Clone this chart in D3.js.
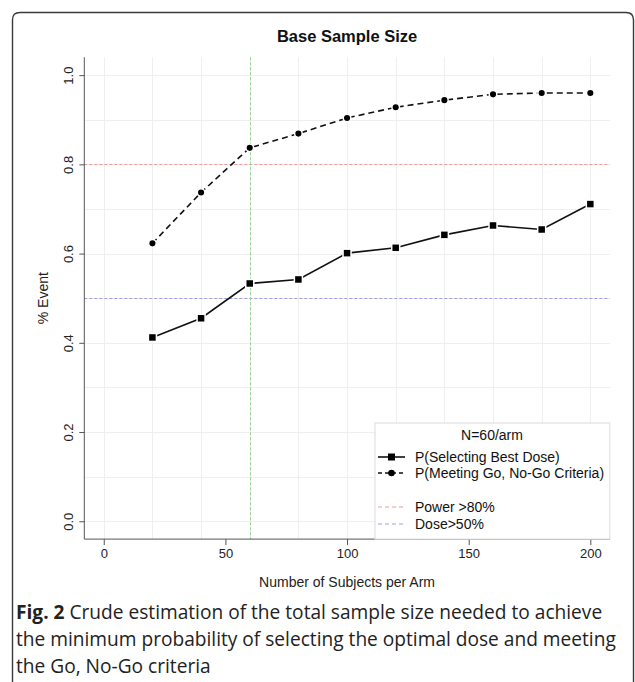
<!DOCTYPE html>
<html>
<head>
<meta charset="utf-8">
<script src="https://cdn.jsdelivr.net/npm/d3@7"></script>
<style>
  html, body { margin: 0; padding: 0; background: #fff; }
  svg { display: block; }
</style>
</head>
<body>
<svg id="chart" width="635" height="682"></svg>
<script>
// Sample sizes per arm (x) and the two estimated probabilities
const subjects = [20, 40, 60, 80, 100, 120, 140, 160, 180, 200];
const pBestDose = [0.412, 0.455, 0.533, 0.542, 0.601, 0.613, 0.642, 0.663, 0.654, 0.711];
const pGoNoGo = [0.623, 0.737, 0.837, 0.869, 0.904, 0.928, 0.944, 0.957, 0.960, 0.960];

// Reference thresholds
const powerLine = 0.8;
const doseLine = 0.5;
const chosenN = 60;

const xTicks = [0, 50, 100, 150, 200];
const yTicks = [0.0, 0.2, 0.4, 0.6, 0.8, 1.0];
const xGrid = d3.range(0, 201, 20);
const yGrid = d3.range(0, 1.0001, 0.1);

const legendTitle = "N=60/arm";
const legendLabels = ["P(Selecting Best Dose)", "P(Meeting Go, No-Go Criteria)", "Power >80%", "Dose>50%"];
const captionBold = "Fig. 2";
const captionLines = [
  " Crude estimation of the total sample size needed to achieve",
  "the minimum probability of selecting the optimal dose and meeting",
  "the Go, No-Go criteria"
];

const svg = d3.select("#chart");
const font = "'Liberation Sans', Arial, sans-serif";
const snap = v => Math.round(v) + 0.5;

// Card frame
svg.append("path")
  .attr("d", "M12.5,682 L12.5,20 Q12.5,12.5 20,12.5 L626,12.5 Q633.5,12.5 633.5,20 L633.5,682")
  .attr("fill", "none").attr("stroke", "#3a3a3a").attr("stroke-width", 1.4);

// Scales (R-style 4% padding on both axes)
const x = d3.scaleLinear().domain([-8, 208]).range([84.3, 609.8]);
const y = d3.scaleLinear().domain([-0.04, 1.04]).range([539.1, 57.3]);

// Grid
const grid = svg.append("g").attr("stroke", "#efefef").attr("stroke-width", 1);
grid.selectAll("line.v").data(xGrid).join("line").attr("class", "v")
  .attr("x1", d => snap(x(d))).attr("x2", d => snap(x(d)))
  .attr("y1", y(1.04)).attr("y2", y(-0.04));
grid.selectAll("line.h").data(yGrid).join("line").attr("class", "h")
  .attr("x1", x(-8)).attr("x2", x(208))
  .attr("y1", d => snap(y(d))).attr("y2", d => snap(y(d)));

// Reference lines
svg.append("line").attr("x1", x(-8)).attr("x2", x(208))
  .attr("y1", snap(y(powerLine))).attr("y2", snap(y(powerLine)))
  .attr("stroke", "#f09a9a").attr("stroke-width", 1).attr("stroke-dasharray", "3,2");
svg.append("line").attr("x1", x(-8)).attr("x2", x(208))
  .attr("y1", snap(y(doseLine))).attr("y2", snap(y(doseLine)))
  .attr("stroke", "#a0a0e0").attr("stroke-width", 1).attr("stroke-dasharray", "3,2");
svg.append("line").attr("x1", snap(x(chosenN))).attr("x2", snap(x(chosenN)))
  .attr("y1", y(1.04)).attr("y2", y(-0.04))
  .attr("stroke", "#98d298").attr("stroke-width", 1).attr("stroke-dasharray", "3,2");

// Axes
const xAxis = d3.axisBottom(x).tickValues(xTicks).tickSize(6).tickPadding(4).tickFormat(d3.format("d"));
const gx = svg.append("g").attr("transform", `translate(0,${y(-0.04)})`).call(xAxis);
gx.select(".domain").attr("d", `M${x(-8)},0H${x(208)}`).attr("stroke", "#555");
gx.selectAll(".tick line").attr("stroke", "#555");
gx.selectAll(".tick text").attr("font-family", font).attr("font-size", 13).attr("fill", "#222");

const yAxis = d3.axisLeft(y).tickValues(yTicks).tickSize(5).tickFormat(d3.format(".1f"));
const gy = svg.append("g").attr("transform", `translate(${x(-8)},0)`).call(yAxis);
gy.select(".domain").attr("d", `M0,${y(1.04)}V${y(-0.04)}`).attr("stroke", "#555");
gy.selectAll(".tick line").attr("stroke", "#555");
gy.selectAll(".tick text")
  .attr("font-family", font).attr("font-size", 13).attr("fill", "#222")
  .attr("x", null).attr("dy", null)
  .attr("text-anchor", "middle")
  .attr("transform", "translate(-16,0) rotate(-90)")
  .attr("dominant-baseline", "central");

// Titles
svg.append("text").attr("x", (x(-8) + x(208)) / 2).attr("y", 42)
  .attr("text-anchor", "middle").attr("font-family", font)
  .attr("font-weight", "bold").attr("font-size", 16.5).attr("fill", "#111")
  .text("Base Sample Size");
svg.append("text").attr("x", (x(-8) + x(208)) / 2).attr("y", 587)
  .attr("text-anchor", "middle").attr("font-family", font)
  .attr("font-size", 14).attr("fill", "#222")
  .text("Number of Subjects per Arm");
svg.append("text")
  .attr("transform", `translate(48,${(y(1.04) + y(-0.04)) / 2}) rotate(-90)`)
  .attr("text-anchor", "middle").attr("font-family", font)
  .attr("font-size", 14).attr("fill", "#222")
  .text("% Event");

// Series
const lineGen = d3.line().x(d => x(d[0])).y(d => y(d[1]));
const s1 = subjects.map((s, i) => [s, pBestDose[i]]);
const s2 = subjects.map((s, i) => [s, pGoNoGo[i]]);

svg.append("path").datum(s2).attr("d", lineGen)
  .attr("fill", "none").attr("stroke", "#111").attr("stroke-width", 1.6)
  .attr("stroke-dasharray", "6,4");
svg.append("path").datum(s1).attr("d", lineGen)
  .attr("fill", "none").attr("stroke", "#111").attr("stroke-width", 1.6);

svg.selectAll("circle.pt").data(s2).join("circle").attr("class", "pt")
  .attr("cx", d => x(d[0])).attr("cy", d => y(d[1])).attr("r", 3.8)
  .attr("fill", "#000").attr("stroke", "#fff").attr("stroke-width", 1.5);
svg.selectAll("rect.pt").data(s1).join("rect").attr("class", "pt")
  .attr("x", d => x(d[0]) - 4).attr("y", d => y(d[1]) - 4)
  .attr("width", 8).attr("height", 8)
  .attr("fill", "#000").attr("stroke", "#fff").attr("stroke-width", 1.5);

// Legend
const lg = svg.append("g");
const lgX0 = 375, lgY0 = 423, lgX1 = x(208), lgY1 = y(-0.04);
lg.append("rect").attr("x", lgX0).attr("y", lgY0)
  .attr("width", lgX1 - lgX0).attr("height", lgY1 - lgY0)
  .attr("fill", "#fff").attr("stroke", "#dcdcdc").attr("stroke-width", 1);
lg.append("text").attr("x", 492).attr("y", 435).attr("dy", "0.35em").attr("text-anchor", "middle")
  .attr("font-family", font).attr("font-size", 14).attr("fill", "#111")
  .text(legendTitle);

const rows = [
  { y: 457, dash: null, color: "#111", mark: "square" },
  { y: 473, dash: "4,3", color: "#111", mark: "circle" },
  { y: 507, dash: "4,3", color: "#f09a9a", mark: null },
  { y: 524, dash: "4,3", color: "#a0a0e0", mark: null }
];
rows.forEach((r, i) => {
  lg.append("line").attr("x1", 378).attr("x2", 405).attr("y1", r.y).attr("y2", r.y)
    .attr("stroke", r.color).attr("stroke-width", r.mark ? 1.6 : 1.2)
    .attr("stroke-dasharray", r.dash);
  if (r.mark === "square") {
    lg.append("rect").attr("x", 391.5 - 3.5).attr("y", r.y - 3.5)
      .attr("width", 7).attr("height", 7).attr("fill", "#000");
  } else if (r.mark === "circle") {
    lg.append("circle").attr("cx", 391.5).attr("cy", r.y).attr("r", 3.3).attr("fill", "#000");
  }
  lg.append("text").attr("x", 415).attr("y", r.y).attr("dy", "0.35em")
    .attr("font-family", font).attr("font-size", 14).attr("fill", "#111")
    .text(legendLabels[i]);
});

// Caption
const capFont = "'Open Sans', 'Noto Sans', sans-serif";
const capY = [619, 646, 673];
const cap = svg.append("g");
captionLines.forEach((line, i) => {
  const t = cap.append("text").attr("x", 16).attr("y", capY[i])
    .attr("font-family", capFont).attr("font-size", 19).attr("fill", "#222");
  if (i === 0) {
    t.append("tspan").attr("font-weight", "bold").text(captionBold);
  }
  t.append("tspan").text(line);
});
// Fit caption size so the second line spans the card width
const probe = cap.selectAll("text").nodes()[1];
const w = probe.getComputedTextLength();
const fs = 19 * 600 / w;
cap.selectAll("text").attr("font-size", fs);
</script>
</body>
</html>
